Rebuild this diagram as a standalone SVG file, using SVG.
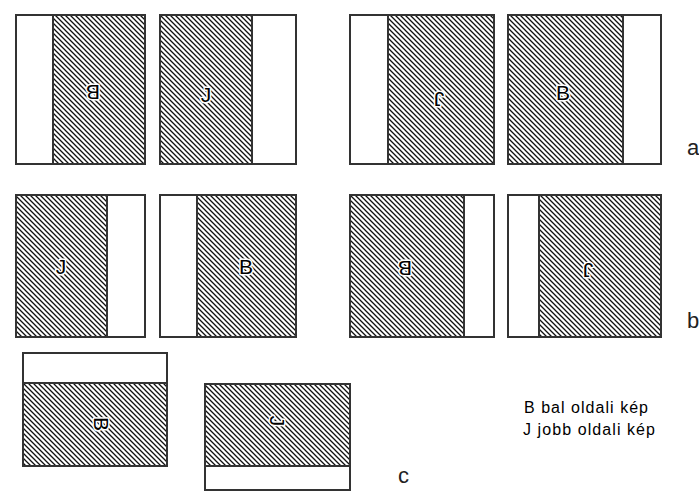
<svg xmlns="http://www.w3.org/2000/svg" width="699" height="491" viewBox="0 0 699 491">
<style>
.frame{fill:none;stroke:#333;stroke-width:2}
.hatch{fill:url(#hatch)}
.div{stroke:#333;stroke-width:2}
.glyph{font-family:"Liberation Sans",Arial,sans-serif;font-size:21px;fill:#000;stroke:#fff;stroke-width:3;paint-order:stroke;stroke-linejoin:round;text-anchor:middle;dominant-baseline:central}
.tag{font-family:"Liberation Sans",Arial,sans-serif;font-size:22px;fill:#222}
.legend{font-family:"Liberation Sans",Arial,sans-serif;font-size:16px;fill:#000}
</style>
<defs>
<pattern id="hatch" patternUnits="userSpaceOnUse" width="5" height="5">
<path d="M-1,-1 L6,6 M4,-1 L6,1 M-1,4 L1,6" stroke="#111" stroke-width="1.3"/>
</pattern>
</defs>
<rect width="699" height="491" fill="#fff"/>

<g id="a1">
<rect class="hatch" x="53" y="15" width="92" height="149"/>
<rect class="frame" x="16" y="15" width="129" height="149"/>
<line class="div" x1="53" y1="15" x2="53" y2="164"/>
<text class="glyph" transform="translate(93,92) rotate(180)">B</text>
</g>
<g id="a2">
<rect class="hatch" x="160" y="15" width="92" height="149"/>
<rect class="frame" x="160" y="15" width="136" height="149"/>
<line class="div" x1="252" y1="15" x2="252" y2="164"/>
<text class="glyph" transform="translate(206,94)">J</text>
</g>
<g id="a3">
<rect class="hatch" x="388" y="15" width="106" height="149"/>
<rect class="frame" x="350" y="15" width="144" height="149"/>
<line class="div" x1="388" y1="15" x2="388" y2="164"/>
<text class="glyph" transform="translate(439,99) rotate(180)">J</text>
</g>
<g id="a4">
<rect class="hatch" x="508" y="15" width="115" height="149"/>
<rect class="frame" x="508" y="15" width="153" height="149"/>
<line class="div" x1="623" y1="15" x2="623" y2="164"/>
<text class="glyph" transform="translate(563,92)">B</text>
</g>
<text class="tag" x="687" y="155">a</text>

<g id="b1">
<rect class="hatch" x="16" y="195" width="91" height="142"/>
<rect class="frame" x="16" y="195" width="129" height="142"/>
<line class="div" x1="107" y1="195" x2="107" y2="337"/>
<text class="glyph" transform="translate(61,266)">J</text>
</g>
<g id="b2">
<rect class="hatch" x="197" y="195" width="99" height="142"/>
<rect class="frame" x="160" y="195" width="136" height="142"/>
<line class="div" x1="197" y1="195" x2="197" y2="337"/>
<text class="glyph" transform="translate(246,266)">B</text>
</g>
<g id="b3">
<rect class="hatch" x="350" y="195" width="114" height="142"/>
<rect class="frame" x="350" y="195" width="144" height="142"/>
<line class="div" x1="464" y1="195" x2="464" y2="337"/>
<text class="glyph" transform="translate(405,268) rotate(180)">B</text>
</g>
<g id="b4">
<rect class="hatch" x="539" y="195" width="122" height="142"/>
<rect class="frame" x="508" y="195" width="153" height="142"/>
<line class="div" x1="539" y1="195" x2="539" y2="337"/>
<text class="glyph" transform="translate(588,270) rotate(180)">J</text>
</g>
<text class="tag" x="687" y="328">b</text>

<g id="c1">
<rect class="hatch" x="23" y="383" width="144" height="83"/>
<rect class="frame" x="23" y="353" width="144" height="113"/>
<line class="div" x1="23" y1="383" x2="167" y2="383"/>
<text class="glyph" transform="translate(101,424) rotate(90)">B</text>
</g>
<g id="c2">
<rect class="hatch" x="205" y="384" width="145" height="82"/>
<rect class="frame" x="205" y="384" width="145" height="106"/>
<line class="div" x1="205" y1="466" x2="350" y2="466"/>
<text class="glyph" transform="translate(277,421) rotate(90)">J</text>
</g>
<text class="tag" x="398" y="483">c</text>

<g id="legend">
<text class="legend" x="524" y="413" textLength="124" lengthAdjust="spacing">B bal oldali kép</text>
<text class="legend" x="523" y="435" textLength="132" lengthAdjust="spacing">J jobb oldali kép</text>
</g>
</svg>
